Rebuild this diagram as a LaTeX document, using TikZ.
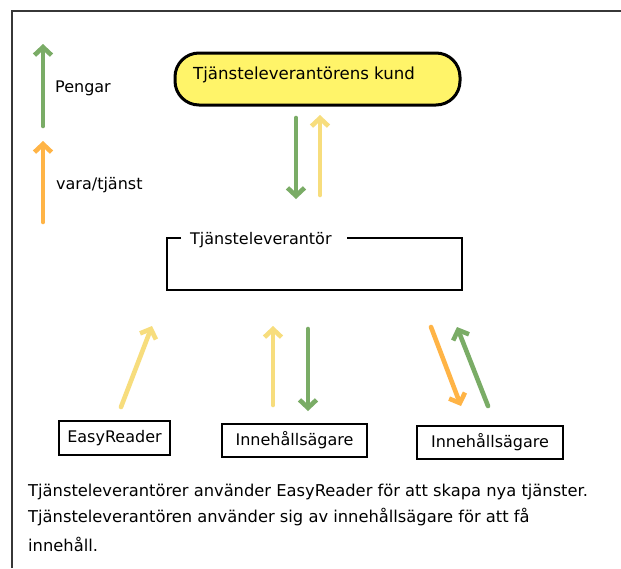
\documentclass[tikz,border=0pt]{standalone}
\usepackage{fontspec}
\setmainfont{DejaVu Sans}
\usetikzlibrary{arrows.meta}
\definecolor{framegray}{RGB}{55,55,55}
\definecolor{mgreen}{RGB}{122,172,102}
\definecolor{myellow}{RGB}{247,221,125}
\definecolor{morange}{RGB}{255,180,70}
\definecolor{kundfill}{RGB}{255,244,105}
\tikzset{
  flow/.style={line width=4.6pt, line cap=round, -{Straight Barb[length=8pt,width=17pt,line width=4.6pt]}},
  gflow/.style={flow, draw=mgreen},
  yflow/.style={flow, draw=myellow},
  oflow/.style={flow, draw=morange},
  lbl/.style={font=\fontsize{16}{18}\selectfont, inner sep=0pt, anchor=base west},
  ownerbox/.style={draw=black, line width=2.2pt, inner sep=0pt, font=\fontsize{16}{18}\selectfont},
  bodytxt/.style={font=\fontsize{16.3}{19}\selectfont, inner sep=0pt, anchor=base west}
}
\begin{document}
\begin{tikzpicture}[x=1pt,y=-1pt]
\useasboundingbox[fill=white] (0,0) rectangle (621,568);
% frame
\draw[framegray, line width=2.6pt] (12,568) -- (12,11) -- (621,11);
% legend
\coordinate (lg1) at (43,126); \coordinate (lg2) at (43,44);
\draw[gflow] (lg1) -- (lg2);
\node[lbl] (pengar) at (55,92) {Pengar};
\coordinate (lo1) at (43,222); \coordinate (lo2) at (43,141);
\draw[oflow] (lo1) -- (lo2);
\node[lbl] (vara) at (56,189) {vara/tjänst};
% customer
\node[draw=black, line width=3pt, fill=kundfill, rounded corners=24pt, minimum width=285pt, minimum height=52pt, inner sep=0pt] (kund) at (317.5,79) {};
\node[lbl, font=\fontsize{16.6}{18}\selectfont] (kundtxt) at (193,79) {Tjänsteleverantörens kund};
% arrows kund <-> leverantör
\coordinate (a1) at (296,118); \coordinate (a2) at (296,199);
\draw[gflow] (a1) -- (a2);
\coordinate (b1) at (320,195); \coordinate (b2) at (320,115);
\draw[yflow] (b1) -- (b2);
% leverantör box
\coordinate (lv1) at (181,238); \coordinate (lv2) at (167,238);
\coordinate (lv3) at (167,290); \coordinate (lv4) at (462,290);
\coordinate (lv5) at (462,238); \coordinate (lv6) at (347,238);
\draw[black, line width=2.2pt] (lv1) -- (lv2) -- (lv3) -- (lv4) -- (lv5) -- (lv6);
\node[lbl] (levtxt) at (190,244) {Tjänsteleverantör};
% owner boxes
\node[ownerbox, minimum width=111pt, minimum height=34pt] (easy) at (114.5,438) {EasyReader};
\node[ownerbox, minimum width=145pt, minimum height=33pt] (inne1) at (294.5,440.5) {Innehållsägare};
\node[ownerbox, minimum width=146pt, minimum height=33pt] (inne2) at (490,442.5) {Innehållsägare};
% bottom arrows
\coordinate (c1) at (121,407); \coordinate (c2) at (152,326);
\draw[yflow] (c1) -- (c2);
\coordinate (d1) at (273,405); \coordinate (d2) at (273,326);
\draw[yflow] (d1) -- (d2);
\coordinate (e1) at (308,329); \coordinate (e2) at (308,411);
\draw[gflow] (e1) -- (e2);
\coordinate (f1) at (431,327); \coordinate (f2) at (461,406);
\draw[oflow] (f1) -- (f2);
\coordinate (g1) at (488,406); \coordinate (g2) at (457,327);
\draw[gflow] (g1) -- (g2);
% text
\node[bodytxt] (t1) at (28,496) {Tjänsteleverantörer använder EasyReader för att skapa nya tjänster.};
\node[bodytxt] (t2) at (28,522) {Tjänsteleverantören använder sig av innehållsägare för att få};
\node[bodytxt] (t3) at (28,551) {innehåll.};
\end{tikzpicture}
\end{document}
